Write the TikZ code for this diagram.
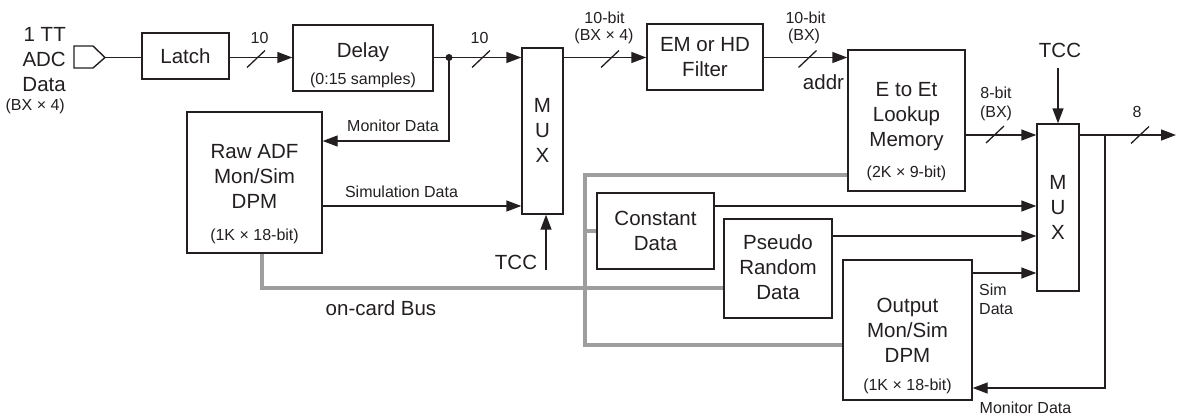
\documentclass[tikz,border=0pt]{standalone}
\usepackage{fontspec}
\setmainfont{Liberation Sans}
\usetikzlibrary{arrows.meta}
\newcommand\fBig{\fontsize{20.5}{25}\selectfont}
\newcommand\fSm{\fontsize{16}{19}\selectfont}
\definecolor{ink}{HTML}{231F20}
\definecolor{busgray}{gray}{0.62}
\pgfdeclarelayer{bg}
\pgfsetlayers{bg,main}
\begin{document}
\begin{tikzpicture}[x=1pt,y=-1pt,color=ink,
  box/.style={draw, line width=1.4pt, fill=white, inner sep=0pt},
  txt/.style={inner sep=0pt, align=center, font=\fBig},
  lbl/.style={inner sep=0pt, align=center, font=\fSm},
  wire/.style={line width=1.4pt},
  arr/.style={wire, -{Triangle[length=15pt,width=11pt]}},
  bus/.style={line width=4.5pt, draw=busgray, line join=miter},
  dotnode/.style={circle, fill, inner sep=0pt, minimum size=7pt},
  slash/.pic={\draw[line width=1.3pt] (-9pt,-8.5pt) -- (9pt,8.5pt);}
]
\useasboundingbox (0,0) rectangle (1177,416);

\coordinate (b1) at (585,175);
\coordinate (b2) at (585,345);
\coordinate (b3) at (262,288);

% ---- boxes
\node[box, minimum width=87, minimum height=46] (latch) at (185.5,56) {};
\node[box, minimum width=140, minimum height=66] (delay) at (363,58) {};
\node[box, minimum width=41, minimum height=166] (mux1) at (542.5,131) {};
\node[box, minimum width=135, minimum height=141] (raw) at (254.5,182.5) {};
\node[box, minimum width=116, minimum height=66] (em) at (705,57) {};
\node[box, minimum width=117, minimum height=141] (lut) at (906.5,120.5) {};
\node[box, minimum width=42, minimum height=167] (mux2) at (1058,207.5) {};
\node[box, minimum width=117, minimum height=76] (constant) at (655.5,231) {};
\node[box, minimum width=108, minimum height=99] (pseudo) at (778,268.5) {};
\node[box, minimum width=129, minimum height=140] (outdpm) at (907.5,330) {};

% ---- on-card bus, behind the boxes
\begin{pgfonlayer}{bg}
\draw[bus] (b1 -| lut.west) -- (b1) -- (b2) -- (b2 -| outdpm.west);
\draw[bus] (b1 |- constant.west) -- (constant.west);
\draw[bus] (b3 |- raw.south) -- (b3) -- (b3 -| pseudo.west);
\end{pgfonlayer}

% ---- box texts
\node[txt, anchor=base] (latchT) at (185.5,63) {Latch};
\node[txt, anchor=base] (delayT) at (363,57) {Delay};
\node[lbl, anchor=base] (delayS) at (363,84) {(0:15 samples)};
\node[txt] (mux1T) at (542.5,130.5) {M\\U\\X};
\node[txt] (rawT) at (254.5,176) {Raw ADF\\Mon/Sim\\DPM};
\node[lbl, anchor=base] (rawS) at (254.5,240) {(1K × 18-bit)};
\node[txt] (emT) at (705,57) {EM or HD\\Filter};
\node[txt] (lutT) at (906.5,116.7) {E to Et\\Lookup\\Memory};
\node[lbl, anchor=base] (lutS) at (906.5,177) {(2K × 9-bit)};
\node[txt] (mux2T) at (1058,207.5) {M\\U\\X};
\node[txt] (constT) at (655.5,230.5) {Constant\\Data};
\node[txt] (pseudoT) at (778,267.5) {Pseudo\\Random\\Data};
\node[txt] (outT) at (907.5,330) {Output\\Mon/Sim\\DPM};
\node[lbl, anchor=base] (outS) at (907.5,390) {(1K × 18-bit)};

% ---- input port
\draw[wire, fill=white] (74,46) -- (93,46) -- (105,57.5) -- (93,68) -- (74,68) -- cycle;
\coordinate (port) at (105,57.5);
\node[txt, align=right, anchor=east] (adcT) at (66,59.5) {1 TT\\ADC\\Data};
\node[lbl, anchor=base east] (adcS) at (65,110) {(BX × 4)};

% ---- connectors
\coordinate (row) at (0,57.5);
\draw[wire] (port) -- (latch.west |- row);
\draw[arr] (latch.east |- row) -- (delay.west |- row);
\pic at (256,59) {slash};
\node[lbl] (l10a) at (259.5,37.5) {10};
\draw[arr] (delay.east |- row) -- (mux1.west |- row);
\node[dotnode] (tap) at (449,57.5) {};
\pic at (481,59) {slash};
\node[lbl] (l10b) at (479.5,37.5) {10};
\coordinate (m1) at (449,141);
\draw[arr] (tap.center) -- (m1) -- (m1 -| raw.east);
\node[lbl] (monA) at (393,125.5) {Monitor Data};
\coordinate (s1) at (322,206);
\draw[arr] (s1 -| raw.east) -- (s1 -| mux1.west);
\node[lbl] (simA) at (401.5,191.5) {Simulation Data};
\coordinate (t1) at (546,270);
\draw[arr] (t1) -- (t1 |- mux1.south);
\node[txt] (tcc1) at (516,262.5) {TCC};
\node[txt] (busL) at (381,308) {on-card Bus};

\draw[arr] (mux1.east |- row) -- (em.west |- row);
\pic at (610,59) {slash};
\node[lbl] (w1) at (604.5,17.5) {10-bit};
\node[lbl] (w1s) at (604,36) {(BX × 4)};
\draw[arr] (em.east |- row) -- (lut.west |- row);
\pic at (807.5,59) {slash};
\node[lbl] (w2) at (805.5,17.5) {10-bit};
\node[lbl] (w2s) at (804,36) {(BX)};
\node[txt] (addr) at (823.5,82.5) {addr};

\coordinate (o8) at (0,135);
\draw[arr] (lut.east |- o8) -- (mux2.west |- o8);
\pic at (995,134.5) {slash};
\node[lbl] (w3) at (996,93) {8-bit};
\node[lbl] (w3s) at (996,113) {(BX)};
\coordinate (t2) at (1058,68);
\draw[arr] (t2) -- (mux2.north);
\node[txt] (tcc2) at (1060,50.5) {TCC};
\coordinate (out) at (1176,135);
\draw[arr] (mux2.east |- out) -- (out);
\pic at (1140,135) {slash};
\node[lbl] (w4) at (1137,112) {8};
\coordinate (br) at (1105,135);
\coordinate (brb) at (1105,388);
\draw[arr] (br) -- (brb) -- (brb -| outdpm.east);
\node[lbl] (monB) at (1025.5,408) {Monitor Data};

\coordinate (c1) at (0,206);
\draw[arr] (constant.east |- c1) -- (mux2.west |- c1);
\coordinate (p1) at (0,236);
\draw[arr] (pseudo.east |- p1) -- (mux2.west |- p1);
\coordinate (d1) at (0,273);
\draw[arr] (outdpm.east |- d1) -- (mux2.west |- d1);
\node[lbl, align=left, anchor=north west] (simD) at (979,284) {Sim\\Data};
\end{tikzpicture}
\end{document}
